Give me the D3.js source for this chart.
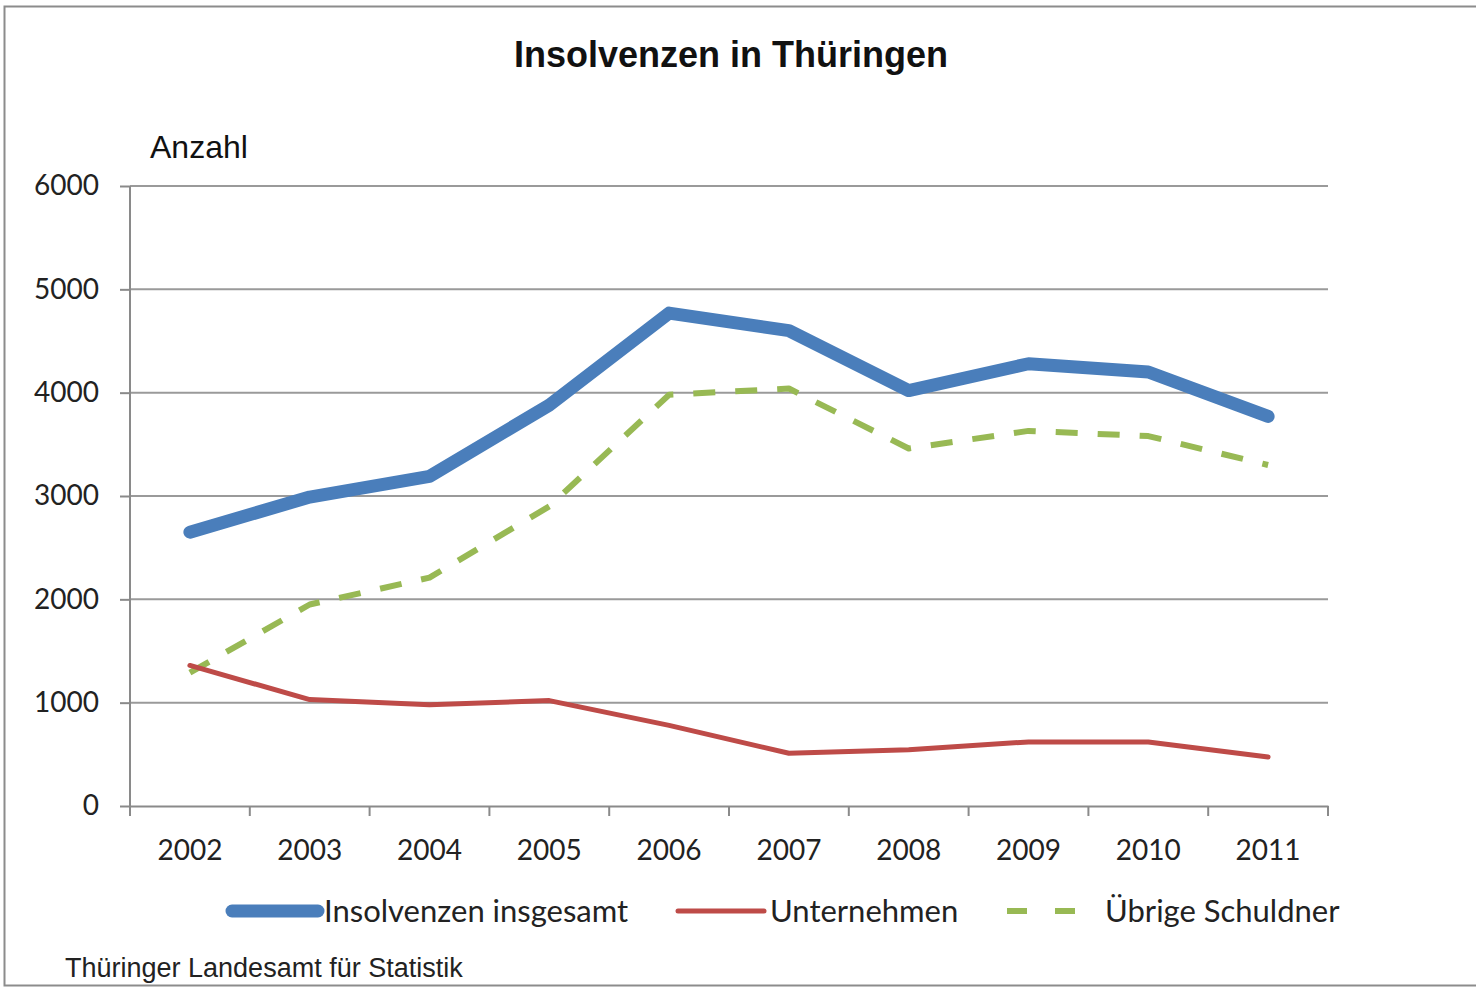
<!DOCTYPE html>
<html>
<head>
<meta charset="utf-8">
<script src="https://cdn.jsdelivr.net/npm/d3@7"></script>
<style>
  body { margin: 0; background: #fff; }
  svg { display: block; }
</style>
</head>
<body>
<div id="chart"></div>
<script>
    "use strict";
    // data
    var years = ["2002", "2003", "2004", "2005", "2006", "2007", "2008", "2009", "2010", "2011"];
    var insgesamt = [2650, 2990, 3190, 3880, 4770, 4600, 4020, 4280, 4200, 3770];
    var unternehmen = [1360, 1030, 980, 1020, 780, 510, 545, 620, 620, 475];
    var uebrige = [1290, 1950, 2210, 2900, 3980, 4040, 3460, 3630, 3580, 3300];
    var yTicks = [0, 1000, 2000, 3000, 4000, 5000, 6000];

    var width = 1476, height = 992;
    var plot = {left: 130, right: 1328, top: 186, bottom: 806};
    var bodyFont = "Lato, 'Open Sans', sans-serif";
    var arial = "'Liberation Sans', Arial, sans-serif";

    var series = [
        {name: "Insolvenzen insgesamt", values: insgesamt, color: "#4a7ebb", width: 13, dash: null, legendX: 232},
        {name: "Unternehmen", values: unternehmen, color: "#be4b48", width: 5, dash: null, legendX: 678},
        {name: "Übrige Schuldner", values: uebrige, color: "#98b954", width: 6, dash: "22,20", legendX: 1005}
    ];

    var svg = d3.select("#chart").append("svg")
        .attr("width", width)
        .attr("height", height);

    //frame round the chart
    svg.append("rect")
        .attr("x", 4.5).attr("y", 6.5)
        .attr("width", width + 10).attr("height", 979)
        .style("fill", "#fff").style("stroke", "#8c8c8c").style("stroke-width", 2);

    var x = d3.scaleBand().domain(years).range([plot.left, plot.right]);
    var y = d3.scaleLinear().domain([0, 6000]).range([plot.bottom, plot.top]);
    var cx = function(i){ return x(years[i]) + x.bandwidth() / 2; };

    //gridlines
    svg.append("g").selectAll("line")
        .data(yTicks.filter(function(d){ return d > 0; }))
        .enter().append("line")
        .attr("x1", plot.left).attr("x2", plot.right)
        .attr("y1", function(d){ return y(d); })
        .attr("y2", function(d){ return y(d); })
        .style("stroke", "#9a9a9a").style("stroke-width", 2);

    //y axis
    var yAxis = svg.append("g")
        .attr("transform", "translate(" + plot.left + ",0)")
        .call(d3.axisLeft(y).tickValues(yTicks).tickFormat(d3.format("d")).tickSize(10).tickPadding(21));
    yAxis.selectAll("line, path").style("stroke", "#8a8a8a").style("stroke-width", 2);
    yAxis.select(".domain").attr("d", "M0," + plot.top + "V" + plot.bottom);
    yAxis.selectAll("text")
        .style("font-family", bodyFont).style("font-size", "28px").style("fill", "#222");

    //x axis, ticks sit between the categories
    var xAxis = svg.append("g")
        .attr("transform", "translate(0," + plot.bottom + ")")
        .call(d3.axisBottom(x).tickSize(0).tickPadding(34));
    xAxis.select(".domain").style("stroke", "#8a8a8a").style("stroke-width", 2);
    xAxis.selectAll("text")
        .style("font-family", bodyFont).style("font-size", "28px").style("fill", "#222");
    var bounds = years.map(function(d){ return x(d); }).concat([plot.right]);
    xAxis.selectAll(".bound").data(bounds).enter().append("line")
        .attr("class", "bound")
        .attr("x1", function(d){ return d; }).attr("x2", function(d){ return d; })
        .attr("y1", 0).attr("y2", 10)
        .style("stroke", "#8a8a8a").style("stroke-width", 2);

    //lines
    var line = d3.line()
        .x(function(d, i){ return cx(i); })
        .y(function(d){ return y(d); });

    svg.append("g").selectAll("path")
        .data(series.slice().reverse())
        .enter().append("path")
        .attr("d", function(s){ return line(s.values); })
        .style("fill", "none")
        .style("stroke", function(s){ return s.color; })
        .style("stroke-width", function(s){ return s.width; })
        .style("stroke-dasharray", function(s){ return s.dash; })
        .style("stroke-linejoin", "round")
        .style("stroke-linecap", function(s){ return s.dash ? "butt" : "round"; });

    //legend
    var legend = svg.append("g").selectAll("g")
        .data(series)
        .enter().append("g")
        .attr("transform", function(s){ return "translate(" + s.legendX + ",911)"; });
    legend.append("line")
        .attr("x1", function(s){ return s.dash ? 2 : 0; })
        .attr("x2", function(s){ return s.dash ? 76 : 86; })
        .style("stroke", function(s){ return s.color; })
        .style("stroke-width", function(s){ return s.width; })
        .style("stroke-dasharray", function(s){ return s.dash ? "20,28" : null; })
        .style("stroke-linecap", function(s){ return s.dash ? "butt" : "round"; });
    legend.append("text")
        .attr("x", function(s){ return s.dash ? 100 : 92; })
        .attr("dy", "0.35em")
        .style("font-family", bodyFont).style("font-size", "31px").style("fill", "#222")
        .text(function(s){ return s.name; });

    //title and labels
    svg.append("text")
        .attr("x", 731).attr("y", 67)
        .attr("text-anchor", "middle")
        .style("font-family", arial).style("font-weight", "bold").style("font-size", "36px")
        .style("fill", "#111")
        .text("Insolvenzen in Thüringen");

    svg.append("text")
        .attr("x", 150).attr("y", 158)
        .style("font-family", arial).style("font-size", "32px").style("fill", "#111")
        .text("Anzahl");

    svg.append("text")
        .attr("x", 65).attr("y", 977)
        .style("font-family", arial).style("font-size", "27px").style("fill", "#222")
        .text("Thüringer Landesamt für Statistik");
</script>
</body>
</html>
